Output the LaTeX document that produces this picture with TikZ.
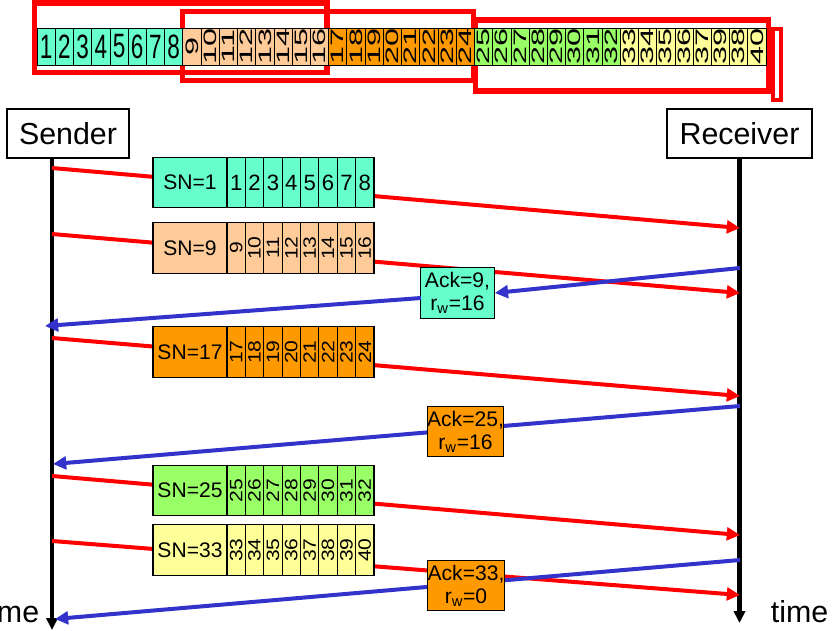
\documentclass[tikz,border=0pt]{standalone}
\usepackage{fontspec}
\setmainfont{Liberation Sans}
\usepackage{graphicx}
\usetikzlibrary{arrows.meta}
\definecolor{aquac}{HTML}{66FFCC}
\definecolor{peachc}{HTML}{FFCC99}
\definecolor{orangec}{HTML}{FF9900}
\definecolor{greenc}{HTML}{99FF66}
\definecolor{yellowc}{HTML}{FFFF99}
\definecolor{ackblue}{HTML}{3333CC}
\newcommand\stripnum[1]{\ifnum#1>8\relax\rotatebox{90}{\scalebox{1.44}[0.8]{#1}}\else\scalebox{1}[1.5]{#1}\fi}
\newcommand\pktnum[1]{\ifnum#1>8\relax\rotatebox{90}{\scalebox{1}[0.85]{#1}}\else\scalebox{1.05}[1.05]{#1}\fi}
\tikzset{
  win/.style={draw=red, line width=0.14cm},
  stripcell/.style={draw, line width=0.5pt, minimum width=0.4556cm, minimum height=0.925cm, inner sep=0pt, font=\fontsize{16}{16}\selectfont},
  pktlabel/.style={draw, line width=0.8pt, minimum width=1.85cm, minimum height=1.26cm, inner sep=0pt, font=\fontsize{15}{15}\selectfont},
  pktcell/.style={pktlabel, minimum width=0.459cm},
  ackbox/.style={draw, line width=0.8pt, minimum width=1.84cm, minimum height=1.26cm, inner sep=0pt, align=center, font=\fontsize{15}{16.5}\selectfont},
  host/.style={draw, line width=0.9pt, minimum height=1.225cm, font=\fontsize{21.6}{26}\selectfont},
  data/.style={red, line width=0.1cm, -{Triangle[length=0.33cm,width=0.32cm]}},
  ack/.style={ackblue, line width=0.1cm, -{Triangle[length=0.33cm,width=0.32cm]}},
  timeline/.style={line width=0.11cm, -{Triangle[length=0.3cm,width=0.28cm]}}
}
\begin{document}
\begin{tikzpicture}[x=0.025cm,y=-0.025cm]
    \useasboundingbox (0,0) rectangle (836,631);
    \draw[win] (34.5,3) rectangle (326.7,72.5);
    \draw[win] (182.5,11.5) rectangle (473.5,80.5);
    \draw[win] (475.5,19.7) rectangle (768.5,91);
    \draw[win, line width=0.11cm] (773,29) rectangle (781,100);
    \foreach \n [count=\i] in {1,...,36,37,39,38,40} {
        \pgfmathtruncatemacro\g{(\i-1)/8}
        \pgfmathparse{{"aquac","peachc","orangec","greenc","yellowc"}[\g]}
        \let\col\pgfmathresult
        \node[stripcell, fill=\col] (t\i) at ({37+(\i-0.5)*18.225},46.5) {\stripnum{\n}};
    }
    \node[host, minimum width=3.05cm] (snd) at (68,133.5) {Sender};
    \node[host, minimum width=3.625cm] (rcv) at (739.5,133.5) {Receiver};
    \coordinate (stop) at (52,158);
    \coordinate (sbot) at (52,630);
    \coordinate (rbot) at (739.5,623);
    \draw[timeline] (stop) -- (sbot);
    \draw[timeline] (rcv) -- (rbot);
    \foreach \k/\ys/\yr in {1/168/228, 2/234/293, 3/338/396, 4/476/535, 5/541/595} {
        \coordinate (sr\k) at (52,\ys);
        \coordinate (rr\k) at (740,\yr);
        \draw[data] (sr\k) -- (rr\k);
    }
    \coordinate (rb2) at (740,406);
    \coordinate (sb2) at (53,464);
    \coordinate (rb3) at (740,560);
    \coordinate (sb3) at (55,619);
    \draw[ack] (rb2) -- (sb2);
    \draw[ack] (rb3) -- (sb3);
    \foreach \nm/\y/\col/\sn in {pa/182.5/aquac/1, pb/248/peachc/9, pc/352/orangec/17, pd/490.5/greenc/25, pe/550/yellowc/33} {
        \node[pktlabel, fill=\col] (\nm) at (190,\y) {SN=\sn};
        \foreach \k in {1,...,8} {
            \pgfmathtruncatemacro\n{\sn+\k-1}
            \node[pktcell, fill=\col] (\nm-\k) at ({227+(\k-0.5)*18.375},\y) {\pktnum{\n}};
        }
    }
    \node[ackbox, fill=aquac] (ack9) at (457.5,293) {Ack=9,\\r\textsubscript{w}=16};
    \node[ackbox, fill=orangec] (ack25) at (465.5,431.5) {Ack=25,\\r\textsubscript{w}=16};
    \node[ackbox, fill=orangec] (ack33) at (466,585.5) {Ack=33,\\r\textsubscript{w}=0};
    \coordinate (rb1) at (740,268);
    \coordinate (b1m) at (421,298);
    \coordinate (sb1) at (45,326);
    \draw[ack] (rb1) -- (ack9.east);
    \draw[ack] (b1m) -- (sb1);
    \node[font=\fontsize{21.6}{26}\selectfont] (tleft) at (10.5,612) {time};
    \node[font=\fontsize{21.6}{26}\selectfont] (tright) at (799.5,612) {time};
\end{tikzpicture}
\end{document}
